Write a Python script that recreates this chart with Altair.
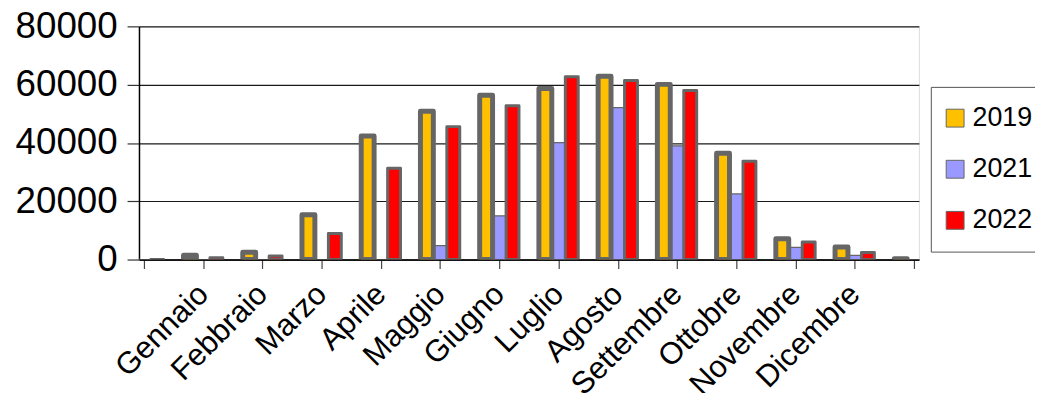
import json
import altair as alt
import pandas as pd

# category slots (-1 and 12 are unlabeled edge groups seen in the original)
slots = list(range(-1, 13))
month_labels = ["", "Gennaio", "Febbraio", "Marzo", "Aprile", "Maggio", "Giugno",
                "Luglio", "Agosto", "Settembre", "Ottobre", "Novembre", "Dicembre", ""]
years = ["2019", "2021", "2022"]
v2019 = [0, 1500, 2500, 15400, 42400, 50900, 56400, 58700, 62900, 60100, 36500, 7100, 4300, 300]
v2021 = [0, 0, 0, 0, 0, 4800, 15000, 40100, 52100, 39000, 22500, 4200, 1400, 0]
v2022 = [0, 650, 1200, 8900, 31300, 45600, 52800, 62700, 61400, 58000, 33700, 6000, 2400, 0]
y_ticks = [0, 20000, 40000, 60000, 80000]

colors = ["#FFC000", "#9999FF", "#FF0000"]
stroke_widths = {"2019": 5, "2021": 1.2, "2022": 3}
offsets = {"2019": -0.223, "2021": 0.0, "2022": 0.223}

series = {"2019": v2019, "2021": v2021, "2022": v2022}
rows = []
# 2021 drawn first so that neighbouring thick borders overlap it
for yr in ["2021", "2019", "2022"]:
    for s, v in zip(slots, series[yr]):
        rows.append({"slot": s, "year": yr, "value": v,
                     "off": offsets[yr], "sw": stroke_widths[yr]})
df = pd.DataFrame(rows)

label_expr = json.dumps(month_labels) + "[datum.value + 1]"
FONT = "Liberation Sans"

chart = (
    alt.Chart(df)
    .transform_calculate(xpos="datum.slot + datum.off")
    .mark_bar(size=13, stroke="#666666", strokeJoin="round", clip=True)
    .encode(
        x=alt.X(
            "xpos:Q",
            scale=alt.Scale(domain=[-1, 12], nice=False, zero=False),
            axis=alt.Axis(
                values=slots, labelExpr=label_expr, title=None, grid=False,
                labelAngle=-45, labelAlign="right", labelBaseline="middle",
                labelFontSize=31, labelFont=FONT, labelColor="black",
                labelPadding=21, labelOffset=0, labelOverlap=False, labelBound=False,
                labelFlush=False, tickSize=9, tickColor="#444444", tickWidth=1.2,
                domainColor="black", domainWidth=1.5,
            ),
        ),
        y=alt.Y(
            "value:Q",
            scale=alt.Scale(domain=[0, 80000], nice=False),
            axis=alt.Axis(
                values=y_ticks, format="d", title=None, labelFontSize=37, labelFont=FONT,
                labelColor="black", labelPadding=10, tickSize=12, tickColor="#333333",
                tickWidth=1.2, domainColor="black", domainWidth=1.5,
                gridColor="#1a1a1a", gridWidth=1.2,
            ),
        ),
        color=alt.Color(
            "year:N",
            scale=alt.Scale(domain=years, range=colors),
            legend=alt.Legend(
                title=None, orient="none", legendX=798, legendY=61,
                symbolType="square", symbolSize=324, symbolStrokeColor="#666666",
                symbolStrokeWidth=1, symbolOffset=-7, labelFontSize=27, labelFont=FONT,
                labelColor="black", labelOffset=4, rowPadding=23.5, padding=18,
                strokeColor="#555555", fillColor="white",
            ),
        ),
        strokeWidth=alt.StrokeWidth("sw:Q", scale=None, legend=None),
    )
    .properties(
        width=786, height=235,
        autosize=alt.AutoSizeParams(type="none"),
        padding={"left": 132, "top": 17, "right": 117, "bottom": 133},
    )
    .configure_view(fill="#ECECEC", stroke="#888888", strokeWidth=2)
    .configure(background="white")
)

chart.save("out.html", embed_options={"renderer": "svg", "actions": False})
